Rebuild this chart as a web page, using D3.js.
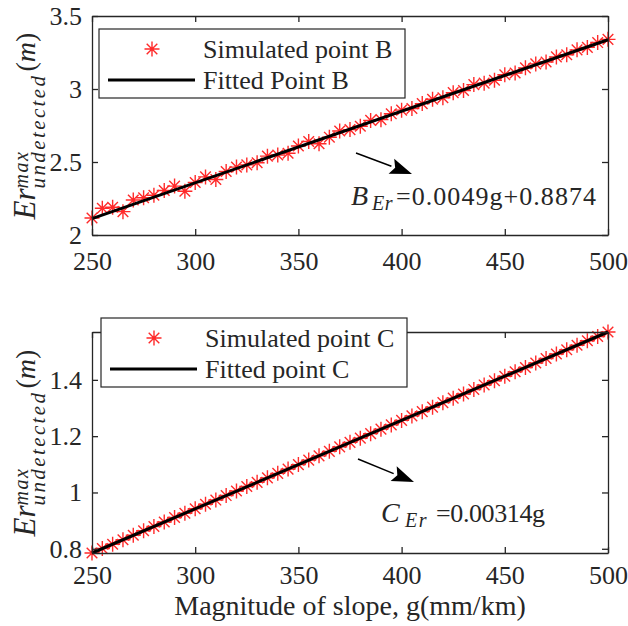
<!DOCTYPE html>
<html>
<head>
<meta charset="utf-8">
<script src="https://cdn.jsdelivr.net/npm/d3@7/dist/d3.min.js"></script>
<style>
  html, body { margin: 0; padding: 0; background: #fff; }
  svg { display: block; }
  text { font-family: "Liberation Serif", "Times New Roman", serif; fill: #262626; }
</style>
</head>
<body>
<svg id="chart" width="628" height="626"></svg>
<script>
// Slope magnitude g (mm/km)
const slopeG = [250,255,260,265,270,275,280,285,290,295,300,305,310,315,320,325,330,335,340,345,
  350,355,360,365,370,375,380,385,390,395,400,405,410,415,420,425,430,435,440,445,
  450,455,460,465,470,475,480,485,490,495,500];

// Simulated maximum undetected error at point B (m)
const simB = [2.116,2.183,2.190,2.160,2.240,2.255,2.272,2.305,2.335,2.300,2.360,2.398,2.380,2.435,2.465,2.480,2.495,2.540,2.548,2.560,
  2.610,2.640,2.625,2.670,2.712,2.722,2.745,2.785,2.790,2.830,2.855,2.866,2.900,2.930,2.940,2.975,2.990,3.030,3.040,3.060,
  3.098,3.110,3.145,3.172,3.185,3.220,3.235,3.268,3.285,3.318,3.340];

// Simulated maximum undetected error at point C (m)
const simC = [0.785,0.801,0.816,0.832,0.848,0.864,0.879,0.895,0.911,0.926,0.942,0.958,0.973,0.989,1.005,1.021,1.036,1.052,1.068,1.083,
  1.099,1.115,1.130,1.146,1.162,1.178,1.193,1.209,1.225,1.240,1.256,1.272,1.287,1.303,1.319,1.335,1.350,1.366,1.382,1.397,
  1.413,1.429,1.444,1.460,1.476,1.492,1.507,1.523,1.539,1.554,1.570];

// Linear fit coefficients: B = 0.0049 g + 0.8874, C = 0.00314 g
const fitB = { slope: 0.0049, intercept: 0.8874 };
const fitC = { slope: 0.00314, intercept: 0 };

const xTicks = [250, 300, 350, 400, 450, 500];
const yTicksB = [2, 2.5, 3, 3.5];
const yTicksC = [0.8, 1, 1.2, 1.4];

const svg = d3.select("#chart");
const INK = "#262626";
const RED = "#ff2a2a";
const SERIF = '"Liberation Serif", "Times New Roman", serif';

const x = d3.scaleLinear().domain([250, 500]).range([92, 608]);

function starPath(r) {
  const d = r * Math.SQRT1_2;
  return `M${-r},0H${r}M0,${-r}V${r}M${-d},${-d}L${d},${d}M${-d},${d}L${d},${-d}`;
}

function panel(opt) {
  const y = d3.scaleLinear().domain(opt.yDomain).range(opt.yRange);
  const g = svg.append("g");
  const top = opt.yRange[1], bottom = opt.yRange[0];
  const left = x.range()[0], right = x.range()[1];
  const tickLen = 6;

  // simulated points, then the fitted line on top
  g.append("g").selectAll("path")
    .data(slopeG.map((gv, i) => [gv, opt.sim[i]]))
    .join("path")
    .attr("d", starPath(7.5))
    .attr("transform", d => `translate(${x(d[0])},${y(d[1])})`)
    .attr("stroke", RED).attr("stroke-width", 1.4).attr("fill", "none");

  const fitLine = d3.line().x(d => x(d)).y(d => y(opt.fit.slope * d + opt.fit.intercept));
  g.append("path").datum([250, 500]).attr("d", fitLine)
    .attr("stroke", "#000").attr("stroke-width", 3).attr("fill", "none");

  // axes with inward ticks, mirrored on top/right
  const xb = d3.axisBottom(x).tickValues(xTicks).tickSizeInner(-tickLen).tickSizeOuter(0).tickPadding(opt.xPad).tickFormat(d3.format("d"));
  const xt = d3.axisTop(x).tickValues(xTicks).tickSizeInner(-tickLen).tickSizeOuter(0).tickFormat("");
  const yl = d3.axisLeft(y).tickValues(opt.yTicks).tickSizeInner(-tickLen).tickSizeOuter(0).tickPadding(10).tickFormat(d => String(d));
  const yr = d3.axisRight(y).tickValues(opt.yTicks).tickSizeInner(-tickLen).tickSizeOuter(0).tickFormat("");

  const styleAxis = sel => {
    sel.attr("font-family", SERIF);
    sel.selectAll("path.domain").attr("stroke", INK).attr("stroke-width", 1.3);
    sel.selectAll(".tick line").attr("stroke", INK).attr("stroke-width", 1.3);
    sel.selectAll(".tick text").attr("fill", INK).style("font-family", SERIF).style("font-size", "26px");
  };
  g.append("g").attr("transform", `translate(0,${bottom})`).call(xb).call(styleAxis)
    .selectAll(".tick text").attr("dy", "0.72em");
  g.append("g").attr("transform", `translate(0,${top})`).call(xt).call(styleAxis);
  g.append("g").attr("transform", `translate(${left},0)`).call(yl).call(styleAxis)
    .selectAll(".tick text").attr("dy", "0.32em");
  g.append("g").attr("transform", `translate(${right},0)`).call(yr).call(styleAxis);

  // y-axis label: Er^{max}_{undetected}(m)
  const cy = (top + bottom) / 2;
  const lab = g.append("g").attr("transform", `translate(35,${cy}) rotate(-90)`);
  lab.append("text").attr("x", -94).attr("y", 0).style("font-style", "italic").style("font-size", "31px").text("Er");
  lab.append("text").attr("x", -63).attr("y", -7).style("font-style", "italic").style("font-size", "20px")
    .style("letter-spacing", "1.5px").text("max");
  lab.append("text").attr("x", -63).attr("y", 10).style("font-style", "italic").style("font-size", "21px")
    .style("letter-spacing", "2.4px").text("undetected");
  const pm = lab.append("text").attr("x", 54).attr("y", 0).style("font-size", "28px");
  pm.append("tspan").text("(");
  pm.append("tspan").style("font-style", "italic").text("m");
  pm.append("tspan").text(")");

  // legend
  const L = opt.legend;
  g.append("rect").attr("x", L.x).attr("y", L.y).attr("width", L.w).attr("height", L.h)
    .attr("fill", "#fff").attr("stroke", INK).attr("stroke-width", 1.2);
  g.append("path").attr("d", starPath(7.5)).attr("transform", `translate(${L.x + 53},${L.y + 20})`)
    .attr("stroke", RED).attr("stroke-width", 1.4).attr("fill", "none");
  g.append("line").attr("x1", L.x + 9).attr("x2", L.x + 96).attr("y1", L.y + 51).attr("y2", L.y + 51)
    .attr("stroke", "#000").attr("stroke-width", 3);
  g.append("text").attr("x", L.x + 104).attr("y", L.y + 29).style("font-size", "26px").text(L.labels[0]);
  g.append("text").attr("x", L.x + 104).attr("y", L.y + 60).style("font-size", "26px").text(L.labels[1]);

  // annotation arrow and fitted equation
  const A = opt.arrow;
  const ang = Math.atan2(A.y2 - A.y1, A.x2 - A.x1);
  const hl = 22, hw = 8;
  const bx = A.x2 - hl * Math.cos(ang), by = A.y2 - hl * Math.sin(ang);
  g.append("line").attr("x1", A.x1).attr("y1", A.y1).attr("x2", bx).attr("y2", by)
    .attr("stroke", "#000").attr("stroke-width", 1.5);
  g.append("path")
    .attr("d", `M${A.x2},${A.y2}L${bx + hw * Math.sin(ang)},${by - hw * Math.cos(ang)}L${bx + 4 * Math.cos(ang)},${by + 4 * Math.sin(ang)}L${bx - hw * Math.sin(ang)},${by + hw * Math.cos(ang)}Z`)
    .attr("fill", "#000");

  const E = opt.eq;
  g.append("text").attr("x", E.x).attr("y", E.y).style("font-style", "italic").style("font-size", "28px").text(E.sym);
  g.append("text").attr("x", E.x + E.subDx).attr("y", E.y + 5).style("font-style", "italic").style("font-size", "20px")
    .style("letter-spacing", E.subLs).text("Er");
  g.append("text").attr("x", E.x + E.eqDx).attr("y", E.y).style("font-size", "26px")
    .attr("textLength", E.eqLen).attr("lengthAdjust", "spacing").text(E.rhs);
}

panel({
  sim: simB, fit: fitB, yDomain: [2, 3.5], yRange: [235, 16], yTicks: yTicksB, xPad: 16,
  legend: { x: 99, y: 29, w: 306, h: 69, labels: ["Simulated point B", "Fitted Point B"] },
  arrow: { x1: 356, y1: 153, x2: 412, y2: 174 },
  eq: { x: 351, y: 205, sym: "B", subDx: 21, subLs: "0.5px", eqDx: 45, eqLen: 200,
        rhs: "=" + fitB.slope + "g+" + fitB.intercept }
});

panel({
  sim: simC, fit: fitC, yDomain: [0.785, 1.57], yRange: [553, 332], yTicks: yTicksC, xPad: 12,
  legend: { x: 101, y: 318, w: 306, h: 69, labels: ["Simulated point C", "Fitted point C"] },
  arrow: { x1: 358, y1: 459, x2: 414, y2: 482 },
  eq: { x: 381, y: 522, sym: "C", subDx: 24, subLs: "1.5px", eqDx: 55, eqLen: 109,
        rhs: "=" + fitC.slope + "g" }
});

// shared x-axis title
svg.append("text").attr("x", 350).attr("y", 615).attr("text-anchor", "middle")
  .style("font-size", "28px").text("Magnitude of slope, g(mm/km)");
</script>
</body>
</html>
